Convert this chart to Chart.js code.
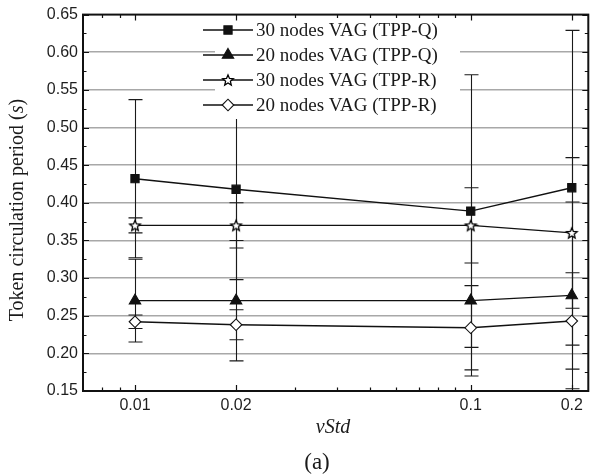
<!DOCTYPE html>
<html><head><meta charset="utf-8">
<script src="https://cdn.jsdelivr.net/npm/chart.js@4.4.1/dist/chart.umd.min.js"></script>
<style>html,body{margin:0;padding:0;background:#fff}#wrap{width:596px;height:476px}</style>
</head><body><div id="wrap"><canvas id="c" width="596" height="476"></canvas></div>
<script>
// ---- data ----
const vStd = [0.01, 0.02, 0.1, 0.2];
const xTickLabels = ['0.01', '0.02', '0.1', '0.2'];
const xMinorTicks = [0.008, 0.009, 0.03, 0.04, 0.05, 0.06, 0.07, 0.08, 0.09];
const seriesNames = ['30 nodes VAG (TPP-Q)', '20 nodes VAG (TPP-Q)', '30 nodes VAG (TPP-R)', '20 nodes VAG (TPP-R)'];
const q30 = [0.432, 0.418, 0.389, 0.420];
const q30Err = [0.105, 0.120, 0.181, 0.209];
const q20 = [0.270, 0.270, 0.270, 0.277];
const q20Err = [0.055, 0.080, 0.100, 0.124];
const r30 = [0.370, 0.370, 0.370, 0.360];
const r30Err = [0.010, 0.030, 0.050, 0.100];
const r20 = [0.242, 0.238, 0.234, 0.243];
const r20Err = [0.009, 0.020, 0.056, 0.064];

const INK = '#111111';

function starImage(R) {
  const s = Math.ceil(R * 2 + 4);
  const cv = document.createElement('canvas');
  cv.width = s; cv.height = s;
  const c = cv.getContext('2d');
  const cx = s / 2, cy = s / 2 + 0.5, r = R * 0.45;
  c.beginPath();
  for (let i = 0; i < 10; i++) {
    const rad = (i % 2 === 0) ? R : r;
    const a = -Math.PI / 2 + i * Math.PI / 5;
    const px = cx + rad * Math.cos(a), py = cy + rad * Math.sin(a);
    if (i === 0) c.moveTo(px, py); else c.lineTo(px, py);
  }
  c.closePath();
  c.fillStyle = '#fff'; c.fill();
  c.strokeStyle = '#000'; c.lineWidth = 1.3; c.stroke();
  return cv;
}
const star = starImage(5.6);

function mk(label, ys, errs, style, radius, fill) {
  return {
    label: label,
    data: vStd.map((x, i) => ({x: x, y: ys[i]})),
    errors: errs,
    borderColor: INK,
    borderWidth: 1.4,
    pointStyle: style,
    pointRadius: radius,
    pointHoverRadius: radius,
    pointBackgroundColor: fill,
    pointBorderColor: INK,
    pointBorderWidth: 1.1,
    tension: 0,
    fill: false
  };
}

const datasets = [
  mk(seriesNames[0], q30, q30Err, 'rect', 5.8, INK),
  mk(seriesNames[1], q20, q20Err, 'triangle', 6.6, INK),
  mk(seriesNames[2], r30, r30Err, star, 5.6, '#fff'),
  mk(seriesNames[3], r20, r20Err, 'rectRot', 5.8, '#fff')
];

const errPlugin = {
  id: 'errbars',
  beforeDatasetsDraw(chart) {
    const {ctx, chartArea: a, scales: {x, y}} = chart;
    ctx.save();
    ctx.beginPath(); ctx.rect(a.left, a.top, a.right - a.left, a.bottom - a.top); ctx.clip();
    ctx.strokeStyle = '#1a1a1a'; ctx.lineWidth = 1.1;
    chart.data.datasets.forEach(ds => {
      ds.data.forEach((p, i) => {
        const e = ds.errors[i];
        const px = Math.round(x.getPixelForValue(p.x)) + 0.5;
        const yt = y.getPixelForValue(p.y + e), yb = y.getPixelForValue(p.y - e);
        ctx.beginPath();
        ctx.moveTo(px, yt); ctx.lineTo(px, yb);
        ctx.moveTo(px - 7, yt); ctx.lineTo(px + 7, yt);
        ctx.moveTo(px - 7, yb); ctx.lineTo(px + 7, yb);
        ctx.stroke();
      });
    });
    ctx.restore();
  }
};

function drawMarker(ctx, ds, x, y) {
  ctx.save();
  ctx.fillStyle = ds.pointBackgroundColor;
  ctx.strokeStyle = ds.pointBorderColor;
  ctx.lineWidth = ds.pointBorderWidth;
  if (Chart.helpers && Chart.helpers.drawPoint) {
    Chart.helpers.drawPoint(ctx, {pointStyle: ds.pointStyle, radius: ds.pointRadius, rotation: 0, borderWidth: ds.pointBorderWidth}, x, y);
  } else if (typeof ds.pointStyle === 'object') {
    ctx.drawImage(ds.pointStyle, x - ds.pointStyle.width / 2, y - ds.pointStyle.height / 2);
  }
  ctx.restore();
}

const legendPlugin = {
  id: 'customLegend',
  afterDatasetsDraw(chart) {
    const ctx = chart.ctx;
    ctx.save();
    ctx.fillStyle = '#fff';
    ctx.fillRect(215, 14, 245, 105);
    ctx.font = '19px "Liberation Serif", "Times New Roman", serif';
    ctx.textBaseline = 'middle';
    chart.data.datasets.forEach((ds, i) => {
      const yy = 30 + i * 25;
      ctx.strokeStyle = INK; ctx.lineWidth = 1.4;
      ctx.beginPath(); ctx.moveTo(203, yy); ctx.lineTo(253, yy); ctx.stroke();
      drawMarker(ctx, ds, 228, yy);
      ctx.fillStyle = '#1a1a1a';
      ctx.fillText(ds.label, 256, yy + 1);
    });
    ctx.restore();
  }
};

const framePlugin = {
  id: 'frame',
  afterDraw(chart) {
    const {ctx, chartArea: a, scales: {x, y}} = chart;
    ctx.save();
    ctx.strokeStyle = INK;
    ctx.lineWidth = 1.2;
    ctx.beginPath();
    for (let k = 0; k <= 20; k++) {
      const v = 0.15 + k * 0.025;
      const py = Math.round(y.getPixelForValue(v)) + 0.5;
      const len = (k % 2 === 0) ? 6 : 3.5;
      ctx.moveTo(a.left, py); ctx.lineTo(a.left + len, py);
      ctx.moveTo(a.right, py); ctx.lineTo(a.right - len, py);
    }
    const xt = vStd.map(v => [v, 6]).concat(xMinorTicks.map(v => [v, 3.5]));
    xt.forEach(([v, len]) => {
      const px = Math.round(x.getPixelForValue(v)) + 0.5;
      ctx.moveTo(px, a.bottom); ctx.lineTo(px, a.bottom - len);
      ctx.moveTo(px, a.top); ctx.lineTo(px, a.top + len);
    });
    ctx.stroke();
    ctx.lineWidth = 2;
    ctx.strokeRect(a.left, a.top, a.right - a.left, a.bottom - a.top);

    ctx.fillStyle = '#1a1a1a';
    ctx.textBaseline = 'middle';
    const f = '20px "Liberation Serif", "Times New Roman", serif';
    const fi = 'italic 20px "Liberation Serif", "Times New Roman", serif';
    const parts = [['Token circulation period (', f], ['s', fi], [')', f]];
    let total = 0;
    parts.forEach(p => { ctx.font = p[1]; total += ctx.measureText(p[0]).width; });
    ctx.save();
    ctx.translate(18, 210);
    ctx.rotate(-Math.PI / 2);
    ctx.textAlign = 'left';
    let cx = -total / 2;
    parts.forEach(p => { ctx.font = p[1]; ctx.fillText(p[0], cx, 0); cx += ctx.measureText(p[0]).width; });
    ctx.restore();
    ctx.textAlign = 'center';
    ctx.font = fi;
    ctx.fillText('vStd', 333, 428);
    ctx.font = '23px "Liberation Serif", "Times New Roman", serif';
    ctx.fillText('(a)', 317, 463);
    ctx.restore();
  }
};

new Chart(document.getElementById('c'), {
  type: 'line',
  data: {datasets: datasets},
  options: {
    responsive: false,
    animation: false,
    events: [],
    layout: {padding: {left: 0, right: 2, top: 13, bottom: 0}},
    plugins: {legend: {display: false}, tooltip: {enabled: false}, title: {display: false}},
    scales: {
      x: {
        type: 'logarithmic',
        min: 0.007, max: 0.224,
        border: {display: false},
        grid: {display: false, drawTicks: false},
        afterBuildTicks: s => { s.ticks = vStd.map(v => ({value: v})); },
        afterFit: s => { s.height = 85; },
        ticks: {
          autoSkip: false, maxRotation: 0, padding: 5,
          color: '#1e1e1e',
          font: {family: '"Liberation Sans", Arial, sans-serif', size: 16},
          callback: (v, i) => xTickLabels[i]
        }
      },
      y: {
        min: 0.15, max: 0.65,
        border: {display: false},
        afterFit: s => { s.width = 83; },
        grid: {
          drawTicks: false,
          lineWidth: 1.5,
          color: c => (c.tick && (Math.abs(c.tick.value - 0.15) < 1e-6 || Math.abs(c.tick.value - 0.65) < 1e-6)) ? 'rgba(0,0,0,0)' : '#a8a8a8'
        },
        ticks: {
          stepSize: 0.05, padding: 5,
          color: '#1e1e1e',
          font: {family: '"Liberation Sans", Arial, sans-serif', size: 16},
          callback: v => Number(v).toFixed(2)
        }
      }
    }
  },
  plugins: [errPlugin, legendPlugin, framePlugin]
});
</script>
</body></html>
